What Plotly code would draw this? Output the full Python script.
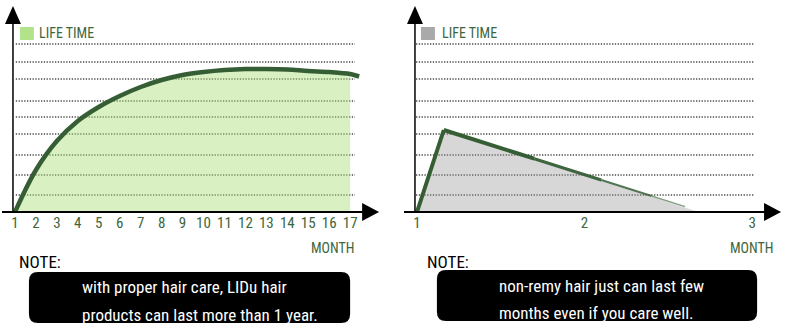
import plotly.graph_objects as go
from plotly.subplots import make_subplots

# ---------------- data ----------------
months_left = [1, 2, 3, 4, 5, 6, 7, 8, 9, 10, 11, 12, 13, 14, 15, 16, 17, 17.43]
life_left = [0, 42, 71, 91, 105, 116, 125, 132, 137, 140, 142, 143, 143, 142.5, 141, 140, 138, 135.5]
fill_end_left = 17  # fill stops at last full month

months_right = [1, 1.16, 2.68]
life_right = [0, 82, 0]
# the line over the right triangle, read in pieces as it tapers off
line_right_x = [1, 1.16, 1.7, 2.1, 2.4, 2.6]
line_right_y = [0, 82, 53.3, 32, 16, 5.4]

tick_left = list(range(1, 18))
tick_right = [1, 2, 3]
grid_levels = [168, 150, 133, 111, 95, 78, 57, 37, 17]

legend_label = "LIFE TIME"
axis_label = "MONTH"
note_label = "NOTE:"
note_left = ["with proper hair care, LIDu hair", "products can last more than 1 year."]
note_right = ["non-remy hair just can last few", "months even if you care well."]

# ---------------- styles ----------------
W, H = 800, 331
FONT = "Roboto Condensed, Roboto, Arial"
GREEN_LINE = "#355e35"
GREEN_TEXT = "#3d663d"
def px(x):
    return x / W
def py(y):
    return 1 - y / H

fig = make_subplots(rows=1, cols=2)

# left traces
n_fill = months_left.index(fill_end_left) + 1
fig.add_trace(go.Scatter(x=months_left[:n_fill], y=life_left[:n_fill], mode="lines",
                         line=dict(width=0, shape="spline"), fill="tozeroy",
                         fillcolor="rgba(170,225,120,0.45)", hoverinfo="skip",
                         showlegend=False), row=1, col=1)
fig.add_trace(go.Scatter(x=months_left, y=life_left, mode="lines",
                         line=dict(color=GREEN_LINE, width=4.5, shape="spline"),
                         showlegend=False), row=1, col=1)

# right traces
fig.add_trace(go.Scatter(x=months_right, y=life_right, mode="lines",
                         line=dict(width=0), fill="tozeroy",
                         fillcolor="rgba(150,150,150,0.38)", hoverinfo="skip",
                         showlegend=False), row=1, col=2)
seg_styles = [(4, 1.0), (4, 1.0), (3, 0.95), (2.2, 0.85), (1.5, 0.6)]
for i, (w, a) in enumerate(seg_styles):
    fig.add_trace(go.Scatter(x=line_right_x[i:i + 2], y=line_right_y[i:i + 2], mode="lines",
                             line=dict(color=f"rgba(53,94,53,{a})", width=w),
                             showlegend=False), row=1, col=2)

ydom = [py(212), py(22)]
fig.update_layout(
    width=W, height=H, margin=dict(l=0, r=0, t=0, b=0),
    paper_bgcolor="white", plot_bgcolor="rgba(0,0,0,0)",
    font=dict(family=FONT),
    xaxis=dict(domain=[px(11), px(362)], range=[1 - 2 / 21, 1 + 349 / 21],
               tickvals=tick_left, ticktext=[str(t) for t in tick_left],
               showgrid=False, zeroline=False, showline=False, ticks="",
               tickfont=dict(size=15, color=GREEN_TEXT, family=FONT)),
    xaxis2=dict(domain=[px(414), px(765)], range=[1 - 2 / 168, 1 + 349 / 168],
                tickvals=tick_right, ticktext=[str(t) for t in tick_right],
                showgrid=False, zeroline=False, showline=False, ticks="",
                tickfont=dict(size=15, color=GREEN_TEXT, family=FONT)),
    yaxis=dict(domain=ydom, range=[0, 190], showgrid=False, zeroline=False,
               showticklabels=False, showline=False),
    yaxis2=dict(domain=ydom, range=[0, 190], showgrid=False, zeroline=False,
                showticklabels=False, showline=False),
)

shapes = []
# dotted gridlines
for xr, yr, x0, x1 in [("x domain", "y", 0.008, 0.977), ("x2 domain", "y2", 0.003, 0.97)]:
    for g in grid_levels:
        shapes.append(dict(type="line", xref=xr, yref=yr, x0=x0, x1=x1, y0=g, y1=g,
                           line=dict(color="#4a4a4a", width=1.6, dash="1.3px,1.5px"),
                           layer="below"))

# axes lines + arrow heads
for yx, x_start, x_end in [(11, 0, 366), (414, 403, 769)]:
    shapes.append(dict(type="line", xref="paper", yref="paper",
                       x0=px(x_start), x1=px(x_end), y0=py(212), y1=py(212),
                       line=dict(color="black", width=2)))
    shapes.append(dict(type="line", xref="paper", yref="paper",
                       x0=px(yx), x1=px(yx), y0=py(212), y1=py(20),
                       line=dict(color="black", width=1.5)))
    shapes.append(dict(type="path", xref="paper", yref="paper",
                       path=f"M {px(yx-8)} {py(24)} L {px(yx)} {py(6)} L {px(yx+8)} {py(24)} Z",
                       fillcolor="black", line=dict(width=0)))
    shapes.append(dict(type="path", xref="paper", yref="paper",
                       path=f"M {px(x_end-5)} {py(203)} L {px(x_end+12)} {py(212)} L {px(x_end-5)} {py(221)} Z",
                       fillcolor="black", line=dict(width=0)))

# legend squares
shapes.append(dict(type="rect", xref="paper", yref="paper", x0=px(18), x1=px(32),
                   y0=py(40), y1=py(27), fillcolor="#b2e28a", line=dict(width=0)))
shapes.append(dict(type="rect", xref="paper", yref="paper", x0=px(420), x1=px(434),
                   y0=py(40), y1=py(27), fillcolor="#a9a9a9", line=dict(width=0)))

# rounded note boxes
def rounded(x0, y0, x1, y1, r):
    return (f"M {px(x0+r)} {py(y0)} L {px(x1-r)} {py(y0)} Q {px(x1)} {py(y0)} {px(x1)} {py(y0+r)} "
            f"L {px(x1)} {py(y1-r)} Q {px(x1)} {py(y1)} {px(x1-r)} {py(y1)} "
            f"L {px(x0+r)} {py(y1)} Q {px(x0)} {py(y1)} {px(x0)} {py(y1-r)} "
            f"L {px(x0)} {py(y0+r)} Q {px(x0)} {py(y0)} {px(x0+r)} {py(y0)} Z")
shapes.append(dict(type="path", xref="paper", yref="paper", path=rounded(27, 272, 349, 323, 9),
                   fillcolor="black", line=dict(width=0)))
shapes.append(dict(type="path", xref="paper", yref="paper", path=rounded(436, 270, 757, 321, 9),
                   fillcolor="black", line=dict(width=0)))
fig.update_layout(shapes=shapes)

ann = []
def text(x, y, t, size, color, xanchor="left"):
    ann.append(dict(xref="paper", yref="paper", x=px(x), y=py(y), text=t, showarrow=False,
                    xanchor=xanchor, yanchor="middle",
                    font=dict(size=size, color=color, family=FONT)))
text(35, 33, legend_label, 14, GREEN_TEXT)
text(439, 33, legend_label, 14, GREEN_TEXT)
text(355, 248, axis_label, 14, GREEN_TEXT, "right")
text(775, 248, axis_label, 14, GREEN_TEXT, "right")
text(15, 262, note_label, 17, "black")
text(424, 262, note_label, 17, "black")
text(78, 287, note_left[0], 17, "white")
text(78, 315, note_left[1], 17, "white")
text(496, 286, note_right[0], 17, "white")
text(496, 313, note_right[1], 17, "white")
fig.update_layout(annotations=ann)

fig.write_html("out.html")
